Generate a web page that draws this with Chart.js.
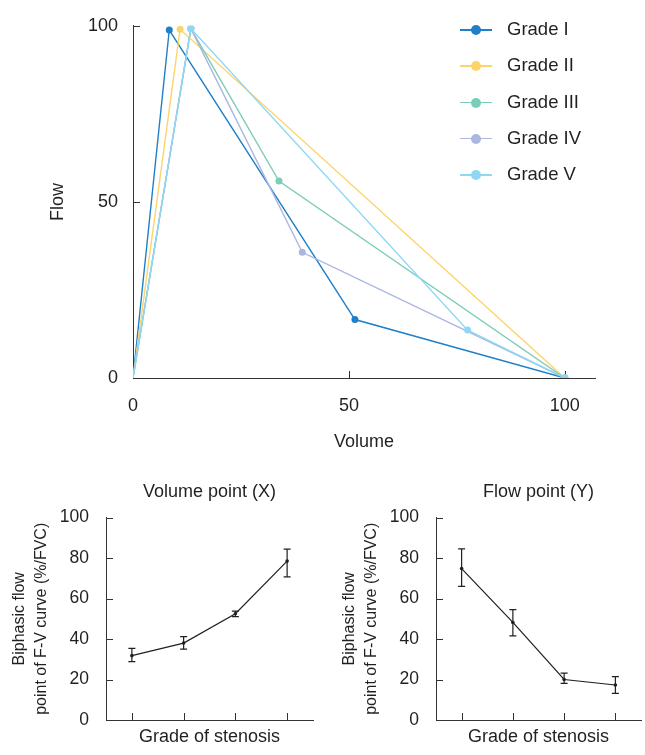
<!DOCTYPE html>
<html>
<head>
<meta charset="utf-8">
<script src="https://cdn.jsdelivr.net/npm/chart.js@4"></script>
<style>
  body { margin: 0; background: #fff; font-family: "Liberation Sans", Arial, sans-serif; }
  #wrap { position: relative; width: 645px; height: 755px; }
  canvas { position: absolute; }
  #legend { position: absolute; left: 460px; top: 12px; }
  .item { position: relative; height: 36.3px; width: 170px; }
  .item .ln { position: absolute; left: 0; top: 17px; width: 32px; height: 1.5px; }
  .item .dot { position: absolute; left: 11px; top: 13px; width: 10px; height: 10px; border-radius: 50%; }
  .item .txt { position: absolute; left: 47px; top: 6px; font-size: 18.5px; color: #231f20; }
</style>
</head>
<body>
<div id="wrap">
  <canvas id="fv" width="645" height="460" style="left:0;top:0"></canvas>
  <div id="legend"></div>
  <canvas id="volPoint" width="320" height="285" style="left:0;top:470px"></canvas>
  <canvas id="flowPoint" width="315" height="285" style="left:330px;top:470px"></canvas>
</div>
<script>
// Top chart: flow-volume curves per grade
const gradeNames = ['Grade I', 'Grade II', 'Grade III', 'Grade IV', 'Grade V'];
const gradeColors = ['#1f7fc8', '#fdd46a', '#7ccdb8', '#abb7df', '#8fd8f4'];

const gradeIVolume = [0, 8.4, 51.4, 100];
const gradeIFlow = [0, 98.8, 16.6, 0];
const gradeIIVolume = [0, 10.9, 100];
const gradeIIFlow = [0, 99.0, 0];
const gradeIIIVolume = [0, 13.4, 33.8, 100];
const gradeIIIFlow = [0, 99.2, 55.9, 0];
const gradeIVVolume = [0, 13.4, 39.2, 100];
const gradeIVFlow = [0, 99.2, 35.7, 0];
const gradeVVolume = [0, 13.4, 77.5, 100];
const gradeVFlow = [0, 99.2, 13.6, 0];

const volumeTicks = [0, 50, 100];

// Bottom charts: biphasic point (mean with error range) per grade
const stenosisGrades = ['I', 'II', 'III', 'IV'];
const volMean = [31.8, 38.0, 52.5, 78.5];
const volUpper = [35.4, 41.2, 53.8, 84.4];
const volLower = [28.8, 35.0, 51.1, 70.7];
const flowMean = [74.8, 48.2, 20.0, 17.3];
const flowUpper = [84.5, 54.5, 23.2, 21.4];
const flowLower = [66.0, 41.6, 18.1, 13.2];

const ink = '#231f20';
const axisColor = '#333333';
Chart.defaults.font.family = '"Liberation Sans", Arial, sans-serif';
Chart.defaults.color = ink;

// tick marks pointing into the plot area
const innerTicks = {
    id: 'innerTicks',
    beforeDatasetsDraw(chart, args, opts) {
        const { ctx, chartArea } = chart;
        const xs = chart.scales.x, ys = chart.scales.y;
        ctx.save();
        ctx.strokeStyle = axisColor;
        ctx.lineWidth = 1;
        ctx.beginPath();
        xs.ticks.forEach((t, i) => {
            const px = Math.round(xs.getPixelForTick(i)) + 0.5;
            ctx.moveTo(px, chartArea.bottom);
            ctx.lineTo(px, chartArea.bottom - opts.length);
        });
        ys.ticks.forEach((t, i) => {
            const py = Math.round(ys.getPixelForTick(i)) + 0.5;
            ctx.moveTo(chartArea.left, py);
            ctx.lineTo(chartArea.left + opts.length, py);
        });
        ctx.stroke();
        ctx.restore();
    }
};

function makeErrorBars(upper, lower) {
    return {
        id: 'errorBars',
        afterDatasetsDraw(chart) {
            const { ctx } = chart;
            const xs = chart.scales.x, ys = chart.scales.y;
            const cap = 3.5;
            ctx.save();
            ctx.strokeStyle = ink;
            ctx.lineWidth = 1.2;
            upper.forEach((hi, i) => {
                const px = xs.getPixelForValue(i);
                const top = ys.getPixelForValue(hi);
                const bot = ys.getPixelForValue(lower[i]);
                ctx.beginPath();
                ctx.moveTo(px, top); ctx.lineTo(px, bot);
                ctx.moveTo(px - cap, top); ctx.lineTo(px + cap, top);
                ctx.moveTo(px - cap, bot); ctx.lineTo(px + cap, bot);
                ctx.stroke();
            });
            ctx.restore();
        }
    };
}

const volumes = [gradeIVolume, gradeIIVolume, gradeIIIVolume, gradeIVVolume, gradeVVolume];
const flows = [gradeIFlow, gradeIIFlow, gradeIIIFlow, gradeIVFlow, gradeVFlow];

const fvDatasets = gradeNames.map((name, i) => ({
    label: name,
    data: volumes[i].map((v, j) => ({ x: v, y: flows[i][j] })),
    showLine: true,
    borderColor: gradeColors[i],
    backgroundColor: gradeColors[i],
    borderWidth: 1.4,
    pointRadius: volumes[i].map((_, j) => j === 0 ? 0 : 3.5),
    pointBorderWidth: 0,
    order: gradeNames.length - i
}));

new Chart(document.getElementById('fv'), {
    type: 'scatter',
    data: { datasets: fvDatasets },
    options: {
        responsive: false,
        animation: false,
        layout: { padding: { top: 24, right: 50, bottom: 0, left: 0 } },
        plugins: {
            legend: { display: false },
            tooltip: { enabled: false },
            innerTicks: { length: 7 }
        },
        scales: {
            x: {
                type: 'linear',
                min: 0,
                max: 107,
                afterBuildTicks: s => { s.ticks = volumeTicks.map(v => ({ value: v })); },
                afterFit: s => { s.height = 82; },
                grid: { display: false, drawTicks: false },
                border: { display: true, color: axisColor, width: 1 },
                ticks: { font: { size: 18 }, padding: 17, maxRotation: 0 },
                title: { display: true, text: 'Volume', font: { size: 18 }, padding: { bottom: 7 } }
            },
            y: {
                min: 0,
                max: 100,
                ticks: { stepSize: 50, font: { size: 18 }, padding: 15 },
                afterFit: s => { s.width = 133; },
                grid: { display: false, drawTicks: false },
                border: { display: true, color: axisColor, width: 1 },
                title: { display: true, text: 'Flow', font: { size: 18 }, padding: { top: 47 } }
            }
        }
    },
    plugins: [innerTicks]
});

// HTML legend: line with a dot in the middle
const legendEl = document.getElementById('legend');
gradeNames.forEach((name, i) => {
    const item = document.createElement('div');
    item.className = 'item';
    item.innerHTML = `<span class="ln" style="background:${gradeColors[i]}"></span>
        <span class="dot" style="background:${gradeColors[i]}"></span>
        <span class="txt">${name}</span>`;
    legendEl.appendChild(item);
});

function pointChart(canvasId, titleText, means, upper, lower, rightPad) {
    new Chart(document.getElementById(canvasId), {
        type: 'line',
        data: {
            labels: stenosisGrades,
            datasets: [{
                data: means,
                borderColor: ink,
                backgroundColor: ink,
                borderWidth: 1.2,
                pointRadius: 1.8,
                pointBorderWidth: 0,
                tension: 0
            }]
        },
        options: {
            responsive: false,
            animation: false,
            layout: { padding: { top: 0, right: rightPad, bottom: 0, left: 0 } },
            plugins: {
                legend: { display: false },
                tooltip: { enabled: false },
                title: {
                    display: true,
                    text: titleText,
                    fullSize: false,
                    color: ink,
                    font: { size: 18, weight: 'normal' },
                    padding: { top: 11, bottom: 15 }
                },
                innerTicks: { length: 7 }
            },
            scales: {
                x: {
                    type: 'category',
                    offset: true,
                    afterFit: s => { s.height = 35; },
                    grid: { display: false, drawTicks: false },
                    border: { display: true, color: axisColor, width: 1 },
                    ticks: { display: false },
                    title: { display: true, text: 'Grade of stenosis', font: { size: 18 }, padding: { bottom: 7 } }
                },
                y: {
                    min: 0,
                    max: 100,
                    ticks: { stepSize: 20, font: { size: 17.5 }, padding: 17 },
                    afterFit: s => { s.width = 106; },
                    grid: { display: false, drawTicks: false },
                    border: { display: true, color: axisColor, width: 1 },
                    title: {
                        display: true,
                        text: ['Biphasic flow', 'point of F-V curve (%/FVC)'],
                        font: { size: 16, lineHeight: '22px' },
                        padding: { top: 9 }
                    }
                }
            }
        },
        plugins: [innerTicks, makeErrorBars(upper, lower)]
    });
}

pointChart('volPoint', 'Volume point (X)', volMean, volUpper, volLower, 7);
pointChart('flowPoint', 'Flow point (Y)', flowMean, flowUpper, flowLower, 2);
</script>
</body>
</html>
